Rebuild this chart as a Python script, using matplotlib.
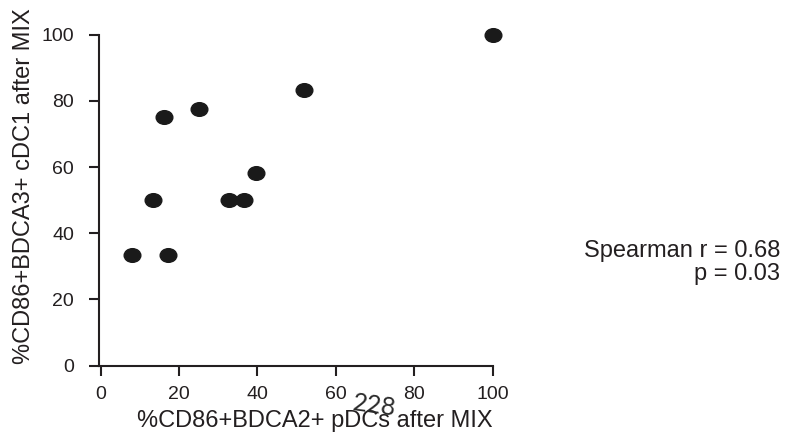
import matplotlib
matplotlib.use("Agg")
import matplotlib.pyplot as plt
from matplotlib.path import Path
from matplotlib.transforms import Affine2D

# Data
pdc_x = [8.0, 17.3, 13.3, 16.2, 25.0, 32.8, 36.7, 39.6, 51.9, 100.0]
cdc1_y = [33.3, 33.3, 50.0, 75.0, 77.6, 50.0, 50.0, 58.2, 83.2, 100.0]
x_ticks = [0, 20, 40, 60, 80, 100]
y_ticks = [0, 20, 40, 60, 80, 100]
x_label = "%CD86+BDCA2+ pDCs after MIX"
y_label = "%CD86+BDCA3+ cDC1 after MIX"
stat_lines = ["Spearman r = 0.68", "p = 0.03"]
page_number = "228"

plt.rcParams['font.family'] = ['Liberation Sans', 'DejaVu Sans']
ink = '#231f20'

W, H = 786, 434
fig = plt.figure(figsize=(W / 100, H / 100), dpi=100)
left, right, top, bottom = 99, 492.7, 34.7, 365.5
ax = fig.add_axes([left / W, (H - bottom) / H, (right - left) / W, (bottom - top) / H])

ellipse = Path.unit_circle().transformed(Affine2D().scale(1.0, 0.82))
ax.plot(pdc_x, cdc1_y, linestyle='none', marker=ellipse, markersize=12,
        color='#1a1a1a', clip_on=False, zorder=3)

ax.set_xlim(-0.4, 100)
ax.set_ylim(0, 100)
ax.set_xticks(x_ticks)
ax.set_yticks(y_ticks)
for s in ['top', 'right']:
    ax.spines[s].set_visible(False)
for s in ['left', 'bottom']:
    ax.spines[s].set_linewidth(1.5)
    ax.spines[s].set_color(ink)
ax.tick_params(axis='both', direction='out', length=7.5, width=1.5, colors=ink,
               labelsize=14, labelcolor=ink)
ax.tick_params(axis='y', pad=10.5)
ax.tick_params(axis='x', pad=7)

fig.text(24 / W, (H - 186) / H, y_label, rotation=90, ha='center', va='center',
         fontsize=17, color=ink)
fig.text(315 / W, (H - 427) / H, x_label, ha='center', va='baseline',
         fontsize=17, color=ink)

fig.text(780 / W, (H - 257) / H, stat_lines[0], ha='right', va='baseline',
         fontsize=17, color=ink)
fig.text(780 / W, (H - 280) / H, stat_lines[1], ha='right', va='baseline',
         fontsize=17, color=ink)

fig.text(374 / W, (H - 406) / H, page_number, ha='center', va='center',
         fontsize=18, rotation=-8, color='#2a2a2a',
         family=['Lato', 'DejaVu Sans'], fontweight='normal')

fig.savefig("out.png", dpi=100)
